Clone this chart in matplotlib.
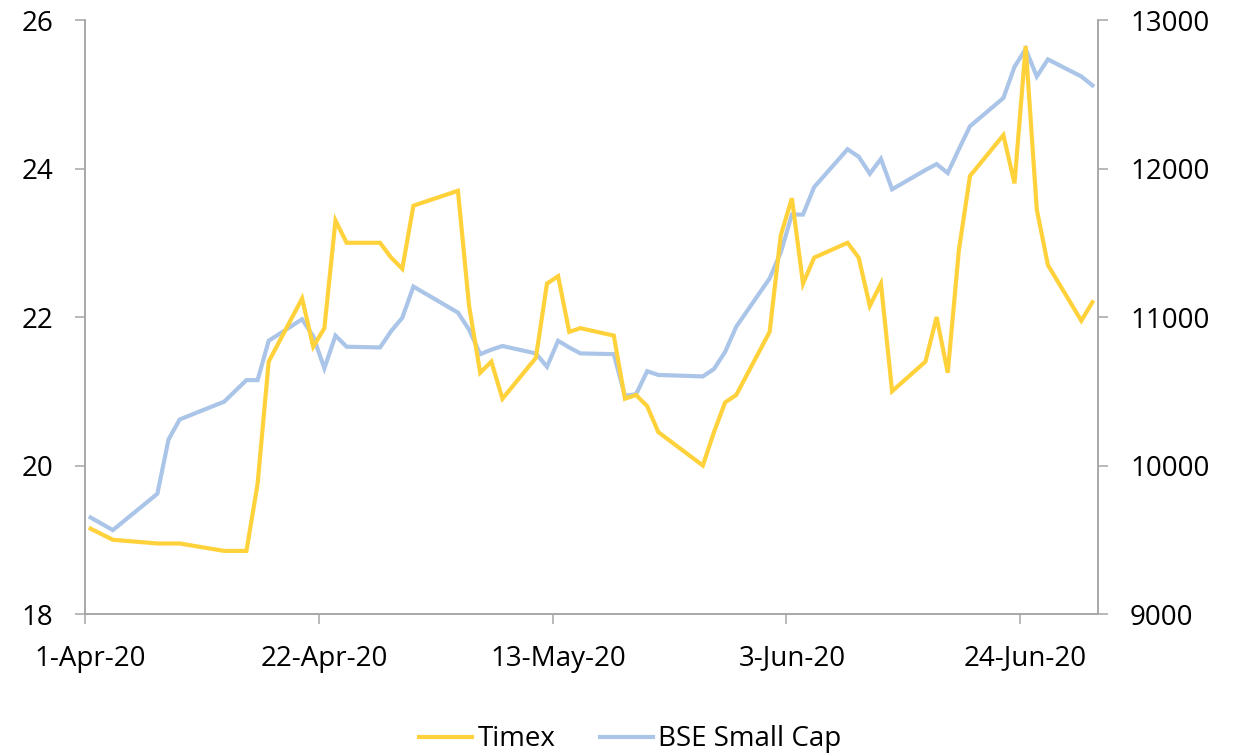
# Timex vs BSE Small Cap, Apr-Jun 2020
import matplotlib
matplotlib.use('Agg')
import matplotlib.pyplot as plt
import matplotlib.dates as mdates
import pandas as pd

dates = [
    '2020-04-01', '2020-04-03', '2020-04-07', '2020-04-08', '2020-04-09', '2020-04-13',
    '2020-04-15', '2020-04-16', '2020-04-17', '2020-04-20', '2020-04-21', '2020-04-22',
    '2020-04-23', '2020-04-24', '2020-04-27', '2020-04-28', '2020-04-29', '2020-04-30',
    '2020-05-04', '2020-05-05', '2020-05-06', '2020-05-07', '2020-05-08', '2020-05-11',
    '2020-05-12', '2020-05-13', '2020-05-14', '2020-05-15', '2020-05-18', '2020-05-19',
    '2020-05-20', '2020-05-21', '2020-05-22', '2020-05-26', '2020-05-27', '2020-05-28',
    '2020-05-29', '2020-06-01', '2020-06-02', '2020-06-03', '2020-06-04', '2020-06-05',
    '2020-06-08', '2020-06-09', '2020-06-10', '2020-06-11', '2020-06-12', '2020-06-15',
    '2020-06-16', '2020-06-17', '2020-06-18', '2020-06-19', '2020-06-22', '2020-06-23',
    '2020-06-24', '2020-06-25', '2020-06-26', '2020-06-29', '2020-06-30',
]

timex = [
    19.15, 19.0, 18.95, 18.95, 18.95, 18.85, 18.85, 19.75, 21.4, 22.25, 21.6, 21.85,
    23.3, 23.0, 23.0, 22.8, 22.65, 23.5,
    23.7, 22.15, 21.25, 21.4, 20.9, 21.45, 22.45, 22.55, 21.8, 21.85, 21.75, 20.9,
    20.95, 20.8, 20.45, 20.0, 20.45, 20.85, 20.95,
    21.8, 23.1, 23.6, 22.45, 22.8, 23.0, 22.8, 22.15, 22.45, 21.0, 21.4,
    22.0, 21.25, 22.9, 23.9, 24.45, 23.8, 25.65, 23.45, 22.7, 21.95, 22.2,
]

bse_smallcap = [
    9650, 9565, 9810, 10175, 10310, 10430, 10575, 10575, 10840, 10985, 10870, 10655,
    10875, 10800, 10795, 10905, 10995, 11205,
    11030, 10915, 10750, 10780, 10805, 10755, 10665, 10840, 10795, 10755, 10750, 10470,
    10480, 10635, 10610, 10600, 10650, 10765, 10935,
    11260, 11435, 11690, 11690, 11875, 12130, 12080, 11965, 12065, 11860, 11990,
    12030, 11970, 12130, 12285, 12475, 12685, 12805, 12620, 12735, 12620, 12560,
]

tick_dates = ['2020-04-01', '2020-04-22', '2020-05-13', '2020-06-03', '2020-06-24']
tick_labels = ['1-Apr-20', '22-Apr-20', '13-May-20', '3-Jun-20', '24-Jun-20']

plt.rcParams['font.family'] = ['Open Sans', 'DejaVu Sans']

yellow = '#FFD23C'
blue = '#AAC5E8'
grey = '#A6A6A6'

# Excel date axis: each day is a slot, points sit in the middle of it
half_day = pd.Timedelta(hours=12)
x = pd.to_datetime(dates) + half_day
ticks = pd.to_datetime(tick_dates)

fig = plt.figure(figsize=(12.34, 7.56), dpi=100)
ax = fig.add_axes([0.0689, 0.1878, 0.8209, 0.7857])
ax2 = ax.twinx()

line1, = ax.plot(x, timex, color=yellow, lw=3, solid_joinstyle='miter', label='Timex')
line2, = ax2.plot(x, bse_smallcap, color=blue, lw=3, solid_joinstyle='miter', label='BSE Small Cap')

# yellow series drawn over the blue one
ax.set_zorder(ax2.get_zorder() + 1)
ax.patch.set_visible(False)

ax.set_xlim(pd.Timestamp('2020-04-01'), pd.Timestamp('2020-07-01'))
ax.set_ylim(18, 26)
ax.set_yticks([18, 20, 22, 24, 26])
ax2.set_ylim(9000, 13000)
ax2.set_yticks([9000, 10000, 11000, 12000, 13000])

ax.set_xticks(ticks)
ax.set_xticklabels([])
ax.set_xticks(ticks + half_day, minor=True)
ax.set_xticklabels(tick_labels, minor=True)
ax.tick_params(axis='x', which='minor', length=0, pad=22, labelsize=20)
ax.tick_params(axis='x', which='major', length=7, width=1.1, color=grey, direction='out')

ax.tick_params(axis='y', length=7, width=1.1, color=grey, pad=16, labelsize=20)
ax2.tick_params(axis='y', length=7, width=1.1, color=grey, pad=16, labelsize=20)

for a in (ax, ax2):
    a.spines['top'].set_visible(False)
    for s in ('left', 'right', 'bottom'):
        a.spines[s].set_color(grey)
        a.spines[s].set_linewidth(1.1)

fig.legend(handles=[line1, line2], loc='center', bbox_to_anchor=(0.511, 0.022),
           ncol=2, frameon=False, fontsize=20, handlelength=1.9,
           handletextpad=0.2, columnspacing=1.6)

fig.savefig('out.png', dpi=100)
